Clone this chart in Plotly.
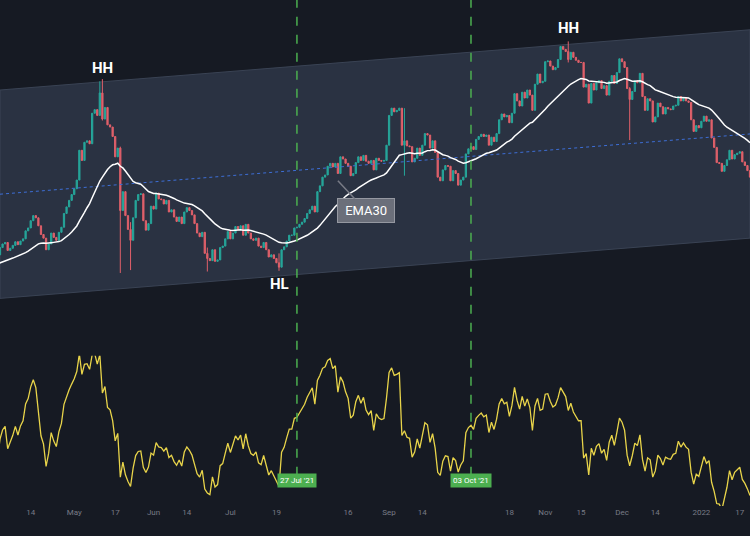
import pandas as pd
import plotly.graph_objects as go
from plotly.subplots import make_subplots

# daily closes, 14 Mar 2021 .. 20 Jan 2022
closes = [
    1880, 1820, 1790, 1810, 1850, 1800, 1830, 1780, 1730, 1700, 1660, 1620, 1690, 1720, 1710, 1780, 1820, 1850, 1930,
    2030, 2080, 2100, 1990, 2020, 2060, 2110, 2070, 2120, 2150,
    2260, 2300, 2400, 2470, 2440, 2330, 2210, 2160, 2000, 2080,
    2230, 2170, 2130, 2240, 2310, 2500, 2590, 2680, 2760, 2840,
    2960, 3370, 3230, 3480, 3500, 3460, 3880, 3930, 3850, 4160,
    3800, 3960, 3720, 3690, 3560, 3280, 3400, 2540, 2800, 2470,
    2280, 2130, 2440, 2680, 2760, 2770, 2400, 2270, 2360, 2600,
    2560, 2780, 2700, 2690, 2630, 2680, 2520, 2550, 2450, 2390,
    2450, 2360, 2520, 2580, 2540, 2480, 2360, 2230, 2180, 2240,
    1950, 1880, 1850, 2000, 1840, 1860, 2030, 2050, 2150, 2250,
    2150, 2230, 2320, 2280, 2330, 2200, 2350, 2230, 2150, 2130,
    2160, 2050, 2030, 2100, 2000, 1900, 1930, 1880, 1820, 1760,
    2000, 2040, 2120, 2200, 2200, 2300, 2310, 2350, 2380, 2430,
    2500, 2550, 2600, 2520, 2800, 2880, 3000, 3030, 3150, 3190,
    3140, 3190, 3050, 3280, 3250, 3190, 3150, 3020, 3050, 3200,
    3280, 3230, 3300, 3220, 3190, 3230, 3100, 3260, 3230, 3220,
    3230, 3440, 3850, 3950, 3900, 3920, 3950, 3440, 3500, 3430,
    3420, 3210, 3260, 3400, 3300, 3440, 3600, 3580, 3400, 3500,
    3340, 3000, 2950, 3100, 3160, 3150, 2950, 3090, 3050, 2890,
    2960, 3000, 3320, 3390, 3420, 3380, 3520, 3560, 3590, 3560,
    3580, 3440, 3550, 3490, 3600, 3790, 3870, 3830, 3850, 3750,
    3880, 4150, 4050, 3980, 4170, 4090, 4200, 4130, 3920, 4280,
    4420, 4300, 4320, 4590, 4600, 4530, 4480, 4510, 4620, 4800,
    4760, 4730, 4620, 4720, 4650, 4610, 4580, 4580, 4240, 4280,
    4020, 4290, 4200, 4300, 4330, 4220, 4260, 4130, 4320, 4400,
    4290, 4440, 4630, 4590, 4510, 4220, 4070, 4180, 4330, 4300,
    4430, 4110, 3920, 4080, 4050, 3760, 3830, 4020, 3970, 3870,
    3960, 3940, 3930, 3980, 3990, 4110, 4050, 4090, 4050, 4030,
    3790, 3630, 3710, 3680, 3770, 3840, 3770, 3790, 3540, 3410,
    3200, 3190, 3080, 3160, 3240, 3370, 3250, 3310, 3330, 3350,
    3210, 3160, 3090, 3000,
]
start_date = "2021-03-14"

# the long wicks that stand out
wick_dates = ["2021-05-11", "2021-05-12", "2021-05-19", "2021-05-23", "2021-06-22", "2021-07-20", "2021-09-07", "2021-11-10", "2021-12-04"]
wick_highs = [4320, 4350, 3420, 2380, 2030, 1950, 3950, 4870, 4240]
wick_lows = [3950, 3780, 1680, 1720, 1700, 1710, 3020, 4580, 3510]

channel_dates = ["2021-04-02", "2022-01-20"]
channel_upper = [4200, 5030]
channel_lower = [1330, 2160]

ticks = ["2021-04-14", "2021-05-01", "2021-05-17", "2021-06-01", "2021-06-14", "2021-07-01", "2021-07-19",
         "2021-08-16", "2021-09-01", "2021-09-14", "2021-10-18", "2021-11-01", "2021-11-15", "2021-12-01",
         "2021-12-14", "2022-01-01", "2022-01-16"]
tick_labels = ["14", "May", "17", "Jun", "14", "Jul", "19", "16", "Sep", "14", "18", "Nov", "15", "Dec", "14", "2022", "17"]
marker_dates = ["2021-07-27", "2021-10-03"]
marker_labels = ["27 Jul '21", "03 Oct '21"]

df = pd.DataFrame({"close": [float(c) for c in closes]}, index=pd.date_range(start_date, periods=len(closes)))
df["open"] = df["close"].shift(1).fillna(df["close"])
df["high"] = df[["open", "close"]].max(axis=1)
df["low"] = df[["open", "close"]].min(axis=1)
for d, h, l in zip(wick_dates, wick_highs, wick_lows):
    df.loc[d, "high"] = max(h, df.loc[d, "high"])
    df.loc[d, "low"] = min(l, df.loc[d, "low"])

ema = df["close"].ewm(span=30, adjust=False).mean()
delta = df["close"].diff()
gain = delta.clip(lower=0).ewm(alpha=1 / 14, adjust=False).mean()
loss = (-delta.clip(upper=0)).ewm(alpha=1 / 14, adjust=False).mean()
rsi = 100 - 100 / (1 + gain / loss)
days = df.index.strftime("%Y-%m-%d").tolist()

bg = "#161a23"
fig = make_subplots(rows=2, cols=1, shared_xaxes=True, row_heights=[0.7, 0.3], vertical_spacing=0.01)

# channel drawn as a shape below the traces so the candles stay on top
cd = channel_dates
fig.add_shape(type="path", xref="x", yref="y", layer="below",
              path="M %s,%s L %s,%s L %s,%s L %s,%s Z" % (cd[0], channel_upper[0], cd[1], channel_upper[1],
                                                          cd[1], channel_lower[1], cd[0], channel_lower[0]),
              fillcolor="#2a3242", line=dict(color="#3a4354", width=1))
fig.add_trace(go.Scatter(x=cd, y=[(a + b) / 2 for a, b in zip(channel_upper, channel_lower)],
                         mode="lines", line=dict(color="#3d6ed6", width=1, dash="dot")), row=1, col=1)
fig.add_trace(go.Candlestick(x=days, open=df["open"].tolist(), high=df["high"].tolist(),
                             low=df["low"].tolist(), close=df["close"].tolist(),
                             increasing=dict(line=dict(color="#26a69a", width=1), fillcolor="#26a69a"),
                             decreasing=dict(line=dict(color="#e0606a", width=1), fillcolor="#e0606a")),
              row=1, col=1)
fig.add_trace(go.Scatter(x=days, y=ema.tolist(), mode="lines", line=dict(color="white", width=1.5)), row=1, col=1)

fig.add_hrect(y0=30, y1=70, fillcolor="rgba(126,87,194,0.12)", line_width=0, row=2, col=1)
for lvl in [70, 50, 30]:
    fig.add_hline(y=lvl, line=dict(color="#787b86", width=1, dash="dash"), row=2, col=1)
fig.add_trace(go.Scatter(x=days, y=rsi.tolist(), mode="lines", line=dict(color="#e8d44a", width=1.3)), row=2, col=1)

for d, lab in zip(marker_dates, marker_labels):
    fig.add_shape(type="line", x0=d, x1=d, xref="x", y0=0.06, y1=1, yref="paper",
                  line=dict(color="#4caf50", width=1.5, dash="dash"))
    fig.add_annotation(x=d, y=0.035, xref="x", yref="paper", text=lab, showarrow=False,
                       bgcolor="#4caf50", font=dict(color="white", size=8), borderpad=2)

for d, p, t in [("2021-05-12", 4500, "HH"), ("2021-11-10", 5050, "HH"), ("2021-07-20", 1530, "HL")]:
    fig.add_annotation(x=d, y=p, text="<b>%s</b>" % t, showarrow=False, font=dict(color="white", size=15), row=1, col=1)
fig.add_annotation(x="2021-08-12", y=2950, ax=28, ay=30, text=" EMA30 ", showarrow=True, arrowhead=0,
                   arrowcolor="#787b86", arrowwidth=1.5, bgcolor="#6b6f7a", bordercolor="#9598a1", borderpad=4,
                   font=dict(color="white", size=13), row=1, col=1)

xr = ["2021-04-02", "2022-01-20"]
fig.update_xaxes(range=xr, showgrid=False, zeroline=False, rangeslider_visible=False, showticklabels=False)
fig.update_xaxes(row=2, col=1, showticklabels=True, tickvals=ticks, ticktext=tick_labels,
                 tickfont=dict(color="#787b86", size=8), ticks="")
fig.update_yaxes(showgrid=False, zeroline=False, showticklabels=False)
fig.update_yaxes(range=[610, 5440], row=1, col=1)
fig.update_yaxes(range=[27, 82], row=2, col=1)
fig.update_layout(width=750, height=536, margin=dict(l=0, r=0, t=0, b=30), showlegend=False,
                  paper_bgcolor=bg, plot_bgcolor=bg, font=dict(family="Roboto"))
fig.write_html("out.html", config={"displayModeBar": False}, post_script="document.body.style.margin='0';")
